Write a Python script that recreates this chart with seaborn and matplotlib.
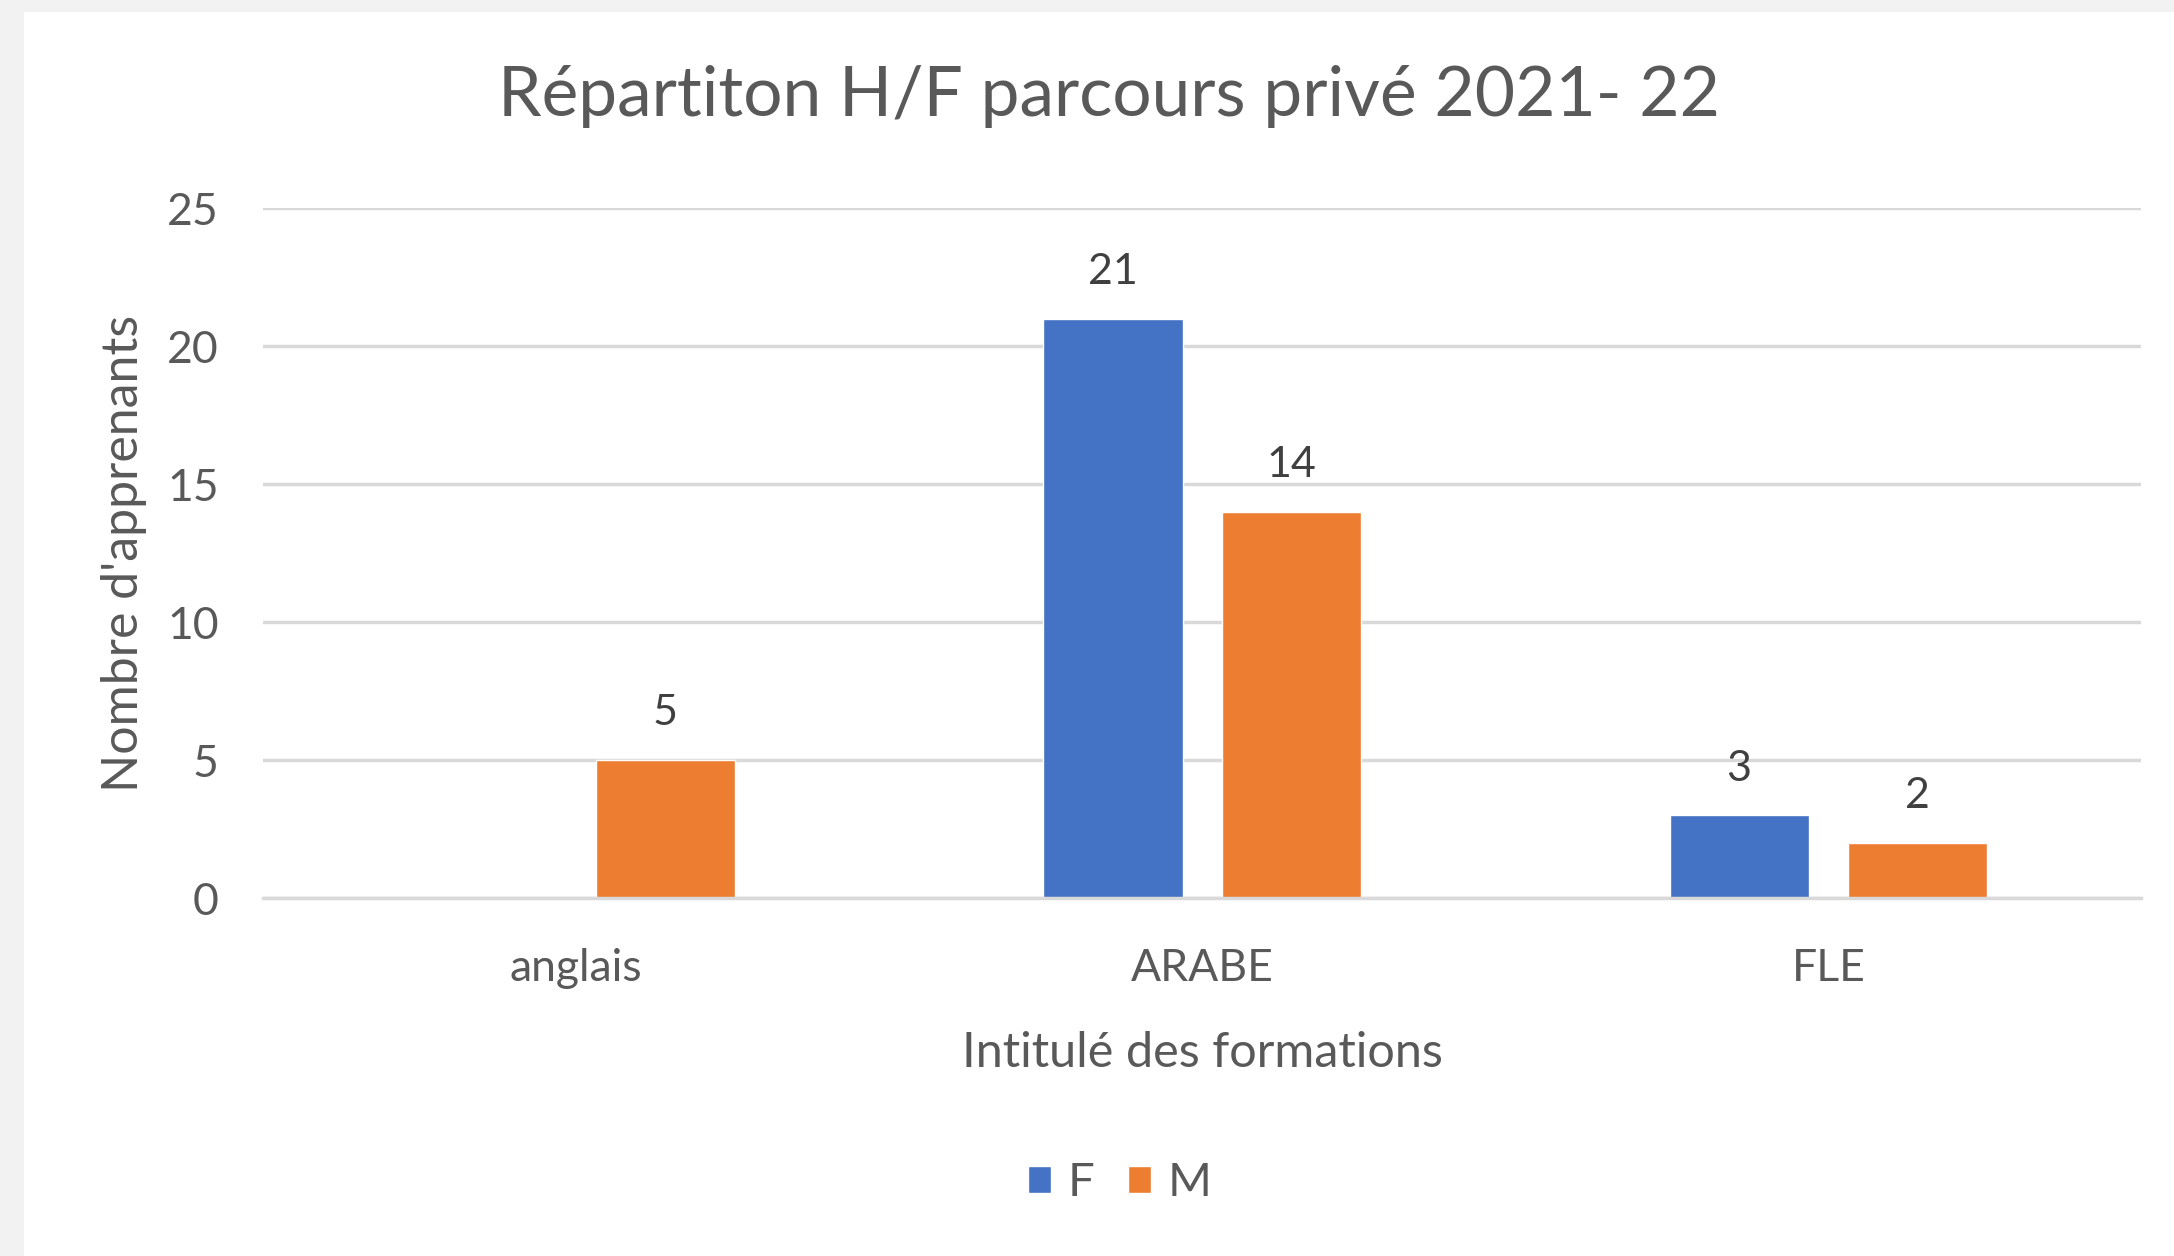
import pandas as pd
import numpy as np
import matplotlib.pyplot as plt
import seaborn as sns
from matplotlib.patches import Rectangle

# data
formations = ['anglais', 'ARABE', 'FLE']
femmes = [0, 21, 3]
hommes = [5, 14, 2]
sexes = ['F', 'M']
couleurs = ['#4472C4', '#ED7D31']

df = pd.DataFrame({
    'formation': formations * 2,
    'sexe': ['F'] * 3 + ['M'] * 3,
    'nombre': femmes + hommes,
})

sns.set_style('white')
plt.rcParams['font.family'] = ['Lato', 'DejaVu Sans']
grey = '#595959'

fig = plt.figure(figsize=(21.74, 12.56), dpi=100, facecolor='#f2f2f2')
# white chart area (grey frame on left/top)
fig.patches.append(Rectangle((24 / 2174, 0), 1, 1 - 12 / 1256, transform=fig.transFigure,
                             facecolor='white', edgecolor='none', zorder=-10))
ax = fig.add_axes([0.121, 0.285, 0.864, 0.549])
ax.set_facecolor('none')

sns.barplot(data=df, x='formation', y='nombre', hue='sexe', order=formations,
            hue_order=sexes, palette=couleurs, width=0.57, gap=0.22,
            saturation=1, ax=ax, legend=False)

for cont in ax.containers:
    labels = [f'{int(b.get_height())}' if b.get_height() > 0 else '' for b in cont]
    ax.bar_label(cont, labels=labels, padding=20, fontsize=31, color='#404040')

ax.set_ylim(0, 25)
ax.set_yticks(range(0, 26, 5))
ax.yaxis.grid(True, color='#d9d9d9', linewidth=2.5)
ax.set_axisbelow(True)
for s in ['top', 'right', 'left']:
    ax.spines[s].set_visible(False)
ax.spines['bottom'].set_color('#d9d9d9')
ax.spines['bottom'].set_linewidth(2.5)
ax.tick_params(axis='both', length=0, labelsize=32, labelcolor=grey)
ax.tick_params(axis='y', pad=32)
ax.tick_params(axis='x', pad=36)

ax.set_xlabel('Intitulé des formations', fontsize=35, color=grey, labelpad=30)
ax.set_ylabel("Nombre d'apprenants", fontsize=36, color=grey, labelpad=14)

fig.text(0.51, 0.923, 'Répartiton H/F parcours privé 2021- 22', ha='center', va='center',
         fontsize=50, color=grey)

handles = [Rectangle((0, 0), 1, 1, facecolor=c) for c in couleurs]
fig.legend(handles, sexes, loc='center', bbox_to_anchor=(0.515, 0.058), ncol=2, frameon=False,
           fontsize=34, labelcolor=grey, handlelength=0.5, handleheight=0.5,
           handletextpad=0.35, columnspacing=0.7)

fig.savefig('out.png', dpi=100, facecolor=fig.get_facecolor())
